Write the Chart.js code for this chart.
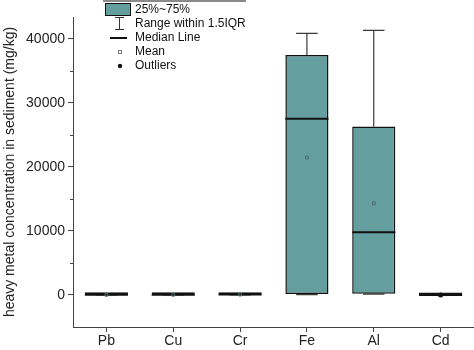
<!DOCTYPE html>
<html>
<head>
<meta charset="utf-8">
<script src="https://cdn.jsdelivr.net/npm/chart.js@4"></script>
<style>
    body { margin: 0; background: #fff; }
    .chart-box { width: 474px; height: 350px; position: relative; }
</style>
</head>
<body>
<div class="chart-box"><canvas id="metalBoxChart"></canvas></div>
<script>
// values (mg/kg)
const metals = ['Pb', 'Cu', 'Cr', 'Fe', 'Al', 'Cd'];
const lowerWhisker = [8, 10, 20, 60, 120, 0.1];
const q1Values = [18, 20, 40, 150, 200, 0.2];
const medianValues = [26, 30, 60, 27500, 9800, 0.4];
const q3Values = [35, 45, 85, 37450, 26300, 0.8];
const upperWhisker = [60, 80, 140, 40850, 41300, 1.5];
const meanValues = [28, 33, 65, 21450, 14300, 0.6];
const outlierValues = [null, null, null, null, null, 3.2];

const yMajorTicks = [0, 10000, 20000, 30000, 40000];
const yMinorTicks = [5000, 15000, 25000, 35000];
const legendLabels = ['25%~75%', 'Range within 1.5IQR', 'Median Line', 'Mean', 'Outliers'];

const boxColor = '#659e9f';
const fontFamily = '"Liberation Sans", Arial, sans-serif';

const boxExtras = {
    id: 'boxExtras',
    beforeDatasetsDraw(chart) {
        const ctx = chart.ctx;
        const x = chart.scales.x;
        const y = chart.scales.y;
        const bars = chart.getDatasetMeta(0).data;
        ctx.save();
        ctx.strokeStyle = '#3a3a3a';
        ctx.lineWidth = 1.2;
        metals.forEach((m, i) => {
            const cx = x.getPixelForValue(i);
            const cap = bars[i].width / 4;
            const top = y.getPixelForValue(upperWhisker[i]);
            const bottom = y.getPixelForValue(lowerWhisker[i]);
            ctx.beginPath();
            ctx.moveTo(cx, y.getPixelForValue(q3Values[i]));
            ctx.lineTo(cx, top);
            ctx.moveTo(cx - cap, top);
            ctx.lineTo(cx + cap, top);
            ctx.moveTo(cx, y.getPixelForValue(q1Values[i]));
            ctx.lineTo(cx, bottom);
            ctx.moveTo(cx - cap, bottom);
            ctx.lineTo(cx + cap, bottom);
            ctx.stroke();
        });
        ctx.restore();
    },
    afterDatasetDraw(chart, args) {
        if (args.index !== 0) return;
        const ctx = chart.ctx;
        const y = chart.scales.y;
        const bars = chart.getDatasetMeta(0).data;
        ctx.save();
        ctx.strokeStyle = '#111';
        ctx.lineWidth = 2;
        bars.forEach((bar, i) => {
            const my = y.getPixelForValue(medianValues[i]);
            ctx.beginPath();
            ctx.moveTo(bar.x - bar.width / 2, my);
            ctx.lineTo(bar.x + bar.width / 2, my);
            ctx.stroke();
        });
        ctx.restore();
    },
    afterDraw(chart) {
        const ctx = chart.ctx;
        const y = chart.scales.y;
        const left = chart.chartArea.left;
        ctx.save();
        // minor ticks
        ctx.strokeStyle = '#444';
        ctx.lineWidth = 1;
        yMinorTicks.forEach(v => {
            const py = Math.round(y.getPixelForValue(v)) + 0.5;
            ctx.beginPath();
            ctx.moveTo(left - 3, py);
            ctx.lineTo(left, py);
            ctx.stroke();
        });

        // legend box
        ctx.fillStyle = '#fff';
        ctx.fillRect(103, 0, 143, 73);
        ctx.strokeStyle = '#8a8a8a';
        ctx.lineWidth = 2;
        ctx.beginPath();
        ctx.moveTo(103, 1);
        ctx.lineTo(246, 1);
        ctx.stroke();

        const rows = [10, 24, 38, 52, 66];
        ctx.fillStyle = boxColor;
        ctx.fillRect(105, 3, 26, 13);
        ctx.strokeStyle = '#111';
        ctx.lineWidth = 1;
        ctx.strokeRect(105.5, 3.5, 25, 12);

        ctx.strokeStyle = '#333';
        ctx.beginPath();
        ctx.moveTo(119.5, 17);
        ctx.lineTo(119.5, 30);
        ctx.moveTo(115, 17.5);
        ctx.lineTo(124, 17.5);
        ctx.moveTo(115, 29.5);
        ctx.lineTo(124, 29.5);
        ctx.stroke();

        ctx.strokeStyle = '#111';
        ctx.lineWidth = 2;
        ctx.beginPath();
        ctx.moveTo(110, rows[2]);
        ctx.lineTo(127, rows[2]);
        ctx.stroke();

        ctx.strokeStyle = '#777';
        ctx.lineWidth = 1;
        ctx.strokeRect(118.5, rows[3] - 1.5, 3, 3);

        ctx.fillStyle = '#111';
        ctx.beginPath();
        ctx.arc(120, rows[4], 2.2, 0, Math.PI * 2);
        ctx.fill();

        ctx.fillStyle = '#111';
        ctx.font = '12px ' + fontFamily;
        ctx.textBaseline = 'middle';
        legendLabels.forEach((t, i) => ctx.fillText(t, 135, rows[i]));
        ctx.restore();
    }
};

const boxCtx = document.getElementById('metalBoxChart').getContext('2d');
new Chart(boxCtx, {
    data: {
        labels: metals,
        datasets: [{
            type: 'bar',
            data: metals.map((m, i) => [q1Values[i], q3Values[i]]),
            backgroundColor: boxColor,
            borderColor: '#111',
            borderWidth: 1.5,
            borderSkipped: false,
            minBarLength: 2.5,
            barPercentage: 0.645,
            categoryPercentage: 1,
            order: 3
        }, {
            type: 'line',
            data: meanValues,
            showLine: false,
            pointStyle: 'rect',
            pointRadius: 2,
            borderWidth: 1,
            borderColor: '#4d6a6b',
            backgroundColor: 'rgba(0,0,0,0)',
            order: 1
        }, {
            type: 'line',
            data: outlierValues,
            showLine: false,
            pointStyle: 'circle',
            pointRadius: 2.5,
            borderWidth: 0,
            backgroundColor: '#111',
            order: 0
        }]
    },
    options: {
        responsive: true,
        maintainAspectRatio: false,
        animation: false,
        layout: { autoPadding: false, padding: { top: 17, right: 0, left: 0, bottom: 0 } },
        plugins: {
            legend: { display: false },
            tooltip: { enabled: false }
        },
        scales: {
            x: {
                afterFit: scale => { scale.height = 23; },
                grid: { display: true, drawOnChartArea: false, offset: false, tickLength: 5, color: '#444' },
                border: { color: '#444', width: 1 },
                ticks: { color: '#222', padding: 1, font: { size: 14, family: fontFamily } }
            },
            y: {
                min: -5000,
                max: 43400,
                afterFit: scale => { scale.width = 73; },
                afterBuildTicks: scale => { scale.ticks = yMajorTicks.map(v => ({ value: v })); },
                grid: { drawOnChartArea: false, tickLength: 5, color: '#444' },
                border: { color: '#444', width: 1 },
                ticks: {
                    color: '#222',
                    padding: 3,
                    font: { size: 14, family: fontFamily },
                    callback: v => String(v)
                },
                title: {
                    display: true,
                    text: 'heavy metal concentration in sediment (mg/kg)',
                    color: '#222',
                    padding: { top: 2, bottom: 2 },
                    font: { size: 14, family: fontFamily }
                }
            }
        }
    },
    plugins: [boxExtras]
});
</script>
</body>
</html>
